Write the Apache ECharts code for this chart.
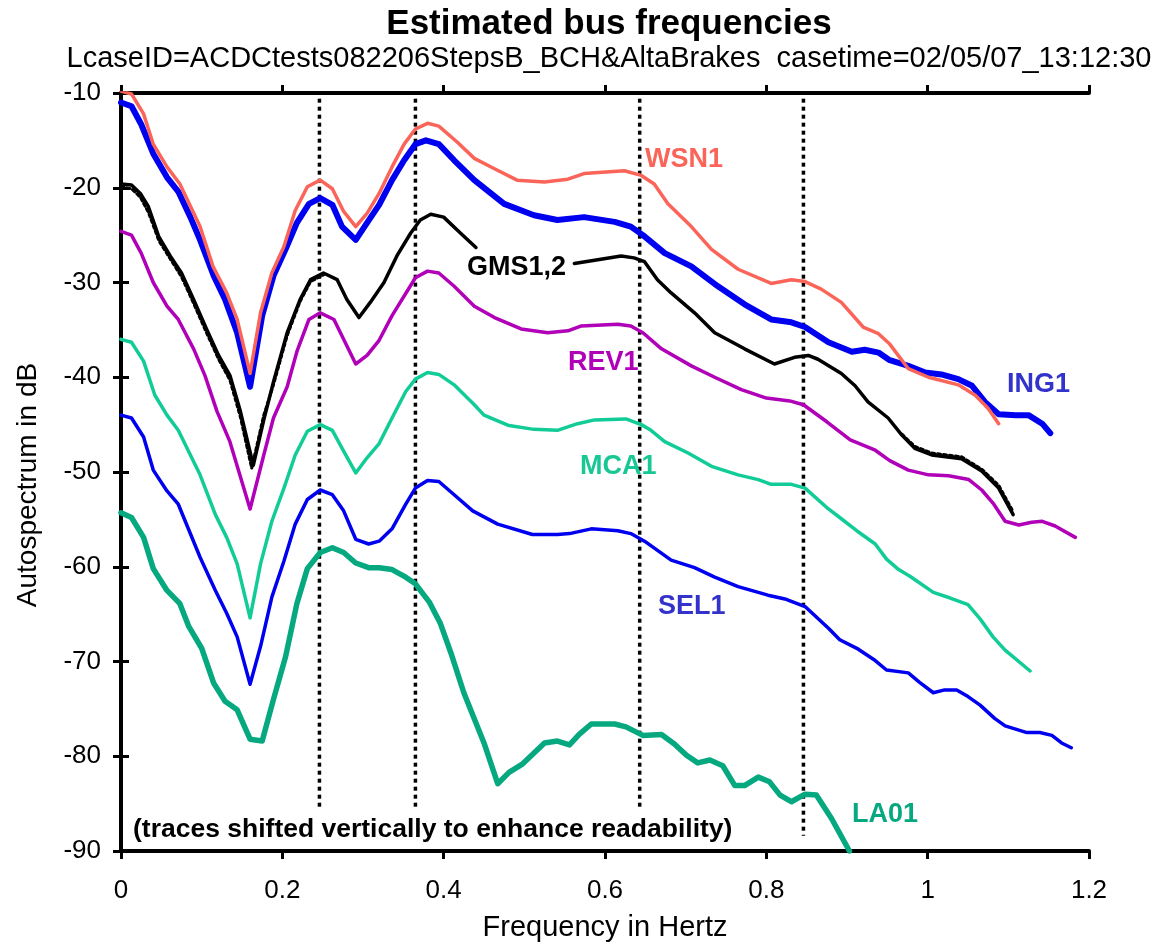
<!DOCTYPE html>
<html>
<head>
<meta charset="utf-8">
<title>Estimated bus frequencies</title>
<script src="https://cdn.jsdelivr.net/npm/echarts@6/dist/echarts.min.js"></script>
<style>
  html, body { margin: 0; padding: 0; background: #fff; }
  #mycharts { width: 1164px; height: 947px; }
</style>
</head>
<body>
<div id="mycharts"></div>
<script>
// frequency (Hz) and autospectrum (dB), one pair of arrays per trace
var wsnHz = [0, 0.013, 0.028, 0.040, 0.057, 0.073, 0.098, 0.114, 0.131, 0.144, 0.160, 0.173, 0.187, 0.202, 0.216, 0.231, 0.247, 0.262, 0.276, 0.291, 0.305, 0.320, 0.336, 0.351, 0.365, 0.380, 0.394, 0.417, 0.438, 0.463, 0.491, 0.525, 0.554, 0.574, 0.624, 0.645, 0.661, 0.678, 0.707, 0.732, 0.765, 0.806, 0.831, 0.848, 0.868, 0.893, 0.920, 0.939, 0.953, 0.976, 1.001, 1.038, 1.059, 1.075, 1.088];
var wsnDb = [-9.8, -10.1, -12.2, -15.4, -17.8, -19.6, -24.1, -28.3, -31.1, -33.9, -39.6, -33.2, -29.0, -26.2, -22.4, -19.9, -19.2, -20.1, -22.5, -24.1, -22.7, -20.6, -17.8, -15.4, -13.8, -13.2, -13.5, -15.2, -16.9, -18.0, -19.2, -19.4, -19.1, -18.5, -18.2, -18.7, -19.6, -21.7, -24.1, -26.5, -28.6, -30.1, -29.7, -29.9, -30.7, -32.1, -34.7, -35.4, -36.5, -39.1, -40.0, -40.8, -41.9, -43.3, -44.9];

var ingHz = [0, 0.013, 0.025, 0.040, 0.057, 0.071, 0.086, 0.098, 0.115, 0.129, 0.144, 0.160, 0.175, 0.189, 0.204, 0.218, 0.233, 0.247, 0.262, 0.274, 0.291, 0.305, 0.320, 0.336, 0.351, 0.365, 0.378, 0.394, 0.413, 0.438, 0.475, 0.512, 0.541, 0.574, 0.612, 0.632, 0.647, 0.674, 0.707, 0.740, 0.773, 0.806, 0.831, 0.848, 0.877, 0.906, 0.922, 0.939, 0.953, 0.976, 0.997, 1.017, 1.038, 1.055, 1.071, 1.088, 1.109, 1.125, 1.142, 1.152];
var ingDb = [-11.0, -11.4, -13.3, -16.4, -18.9, -20.4, -23.1, -25.5, -29.3, -31.8, -35.3, -41.0, -33.5, -29.3, -26.5, -23.7, -21.7, -21.1, -21.8, -24.1, -25.5, -23.7, -21.8, -19.2, -17.1, -15.4, -15.0, -15.4, -17.1, -19.2, -21.7, -22.9, -23.4, -23.1, -23.6, -24.1, -25.0, -26.9, -28.3, -30.4, -32.3, -33.9, -34.2, -34.7, -36.3, -37.3, -37.1, -37.4, -38.2, -38.8, -39.5, -39.7, -40.2, -40.9, -42.6, -43.9, -44.0, -44.0, -44.9, -45.9];

// GMS1 solid trace, broken where the label sits
var gms1Hz = [0, 0.013, 0.024, 0.034, 0.047, 0.061, 0.075, 0.090, 0.106, 0.121, 0.135, 0.148, 0.164, 0.177, 0.189, 0.206, 0.222, 0.235, 0.251, 0.268, 0.280, 0.295, 0.309, 0.326, 0.342, 0.359, 0.371, 0.384, 0.400, 0.421, 0.440, 0.500, 0.562, 0.591, 0.620, 0.636, 0.649, 0.665, 0.682, 0.711, 0.736, 0.773, 0.810, 0.835, 0.852, 0.864, 0.893, 0.910, 0.926, 0.951, 0.968, 0.984, 1.005, 1.042, 1.067, 1.088, 1.106];
var gms1Db = [-19.6, -19.7, -20.6, -22.0, -25.2, -27.2, -29.0, -31.8, -34.9, -37.7, -39.8, -43.6, -49.3, -44.5, -40.5, -35.3, -31.8, -29.7, -29.0, -29.7, -31.8, -33.7, -32.1, -30.0, -27.2, -24.8, -23.4, -22.8, -23.1, -24.8, -26.3, null, -28.0, -27.6, -27.2, -27.4, -27.8, -29.7, -31.1, -33.2, -35.3, -37.0, -38.6, -37.9, -37.7, -38.1, -39.6, -40.9, -42.6, -44.3, -46.1, -47.5, -48.2, -48.6, -49.9, -51.7, -54.5];
// GMS2 dotted trace, only where it shows beside GMS1
var gms2Hz = [0, 0.013, 0.024, 0.034, 0.047, 0.061, 0.075, 0.090, 0.106, 0.121, 0.135, 0.148, 0.162, 0.177, 0.189, 0.206, 0.222, 0.235, 0.251, 0.600, 0.968, 0.984, 1.005, 1.042, 1.067, 1.088, 1.106];
var gms2Db = [-19.9, -20.1, -21.0, -22.6, -25.6, -27.5, -29.4, -32.2, -35.3, -38.1, -40.3, -44.2, -49.6, -44.0, -40.8, -35.6, -32.0, -29.9, -29.2, null, -46.0, -47.3, -48.0, -48.4, -49.7, -51.4, -54.2];

var revHz = [0, 0.013, 0.025, 0.040, 0.057, 0.071, 0.090, 0.104, 0.119, 0.135, 0.160, 0.177, 0.189, 0.206, 0.218, 0.233, 0.247, 0.264, 0.291, 0.305, 0.320, 0.336, 0.365, 0.380, 0.394, 0.413, 0.438, 0.463, 0.496, 0.529, 0.554, 0.570, 0.616, 0.632, 0.647, 0.670, 0.707, 0.736, 0.769, 0.800, 0.829, 0.846, 0.875, 0.904, 0.935, 0.953, 0.976, 1.001, 1.026, 1.051, 1.067, 1.082, 1.096, 1.113, 1.129, 1.142, 1.158, 1.183];
var revDb = [-24.6, -25.0, -26.9, -30.0, -32.5, -33.9, -37.0, -39.8, -43.6, -46.8, -53.9, -48.2, -44.3, -41.0, -37.3, -33.9, -33.2, -33.9, -38.6, -37.7, -36.1, -33.5, -29.5, -28.8, -29.0, -30.4, -32.5, -33.7, -34.9, -35.3, -35.1, -34.6, -34.4, -34.6, -35.3, -37.0, -38.8, -40.0, -41.3, -42.2, -42.5, -42.9, -44.7, -46.6, -47.7, -48.8, -49.8, -50.3, -50.4, -50.8, -51.9, -53.4, -55.2, -55.6, -55.3, -55.2, -55.7, -56.9];

var mcaHz = [0, 0.013, 0.028, 0.042, 0.057, 0.071, 0.098, 0.117, 0.131, 0.144, 0.160, 0.173, 0.187, 0.202, 0.216, 0.231, 0.247, 0.262, 0.276, 0.291, 0.305, 0.320, 0.336, 0.353, 0.365, 0.380, 0.394, 0.413, 0.438, 0.450, 0.481, 0.512, 0.541, 0.566, 0.587, 0.626, 0.645, 0.657, 0.674, 0.703, 0.732, 0.765, 0.790, 0.806, 0.831, 0.848, 0.877, 0.891, 0.912, 0.935, 0.949, 0.964, 0.978, 1.007, 1.028, 1.050, 1.065, 1.081, 1.096, 1.127];
var mcaDb = [-36.0, -36.3, -38.3, -41.9, -44.0, -45.6, -50.3, -54.5, -56.9, -59.7, -65.4, -59.7, -55.2, -51.7, -48.2, -45.7, -45.0, -45.6, -47.8, -50.1, -48.5, -47.0, -44.3, -41.5, -40.2, -39.5, -39.7, -40.8, -42.9, -44.0, -45.1, -45.5, -45.6, -44.9, -44.5, -44.4, -45.0, -45.6, -46.8, -48.0, -49.4, -50.3, -50.8, -51.3, -51.3, -51.7, -53.9, -54.8, -56.2, -57.6, -59.2, -60.3, -61.0, -62.7, -63.3, -64.0, -65.5, -67.4, -68.8, -71.0];

var selHz = [0, 0.013, 0.028, 0.040, 0.057, 0.071, 0.098, 0.117, 0.131, 0.144, 0.160, 0.173, 0.187, 0.202, 0.216, 0.231, 0.247, 0.262, 0.276, 0.291, 0.307, 0.320, 0.336, 0.353, 0.365, 0.380, 0.394, 0.413, 0.436, 0.467, 0.510, 0.541, 0.556, 0.583, 0.616, 0.632, 0.649, 0.682, 0.711, 0.736, 0.765, 0.802, 0.823, 0.848, 0.877, 0.891, 0.914, 0.935, 0.949, 0.976, 0.990, 1.007, 1.021, 1.036, 1.050, 1.065, 1.083, 1.096, 1.123, 1.139, 1.154, 1.166, 1.178];
var selDb = [-44.0, -44.3, -46.3, -49.8, -52.0, -53.4, -59.0, -62.5, -64.9, -67.4, -72.4, -68.4, -63.2, -59.4, -55.5, -52.9, -51.9, -52.4, -54.1, -57.1, -57.6, -57.3, -56.0, -53.4, -51.7, -50.9, -51.0, -52.4, -54.1, -55.5, -56.6, -56.6, -56.5, -56.0, -56.2, -56.5, -57.3, -59.3, -60.1, -61.1, -62.1, -63.0, -63.4, -64.2, -66.5, -67.7, -68.7, -69.9, -70.9, -71.2, -72.2, -73.3, -73.0, -73.0, -73.7, -74.6, -76.0, -76.8, -77.5, -77.5, -77.8, -78.6, -79.1];

var laHz = [0, 0.013, 0.028, 0.040, 0.057, 0.073, 0.084, 0.100, 0.115, 0.129, 0.144, 0.160, 0.175, 0.189, 0.204, 0.218, 0.231, 0.247, 0.262, 0.276, 0.291, 0.307, 0.320, 0.336, 0.353, 0.365, 0.382, 0.396, 0.409, 0.425, 0.450, 0.467, 0.481, 0.498, 0.525, 0.541, 0.556, 0.568, 0.583, 0.612, 0.626, 0.647, 0.670, 0.686, 0.701, 0.715, 0.730, 0.746, 0.761, 0.773, 0.790, 0.804, 0.817, 0.831, 0.848, 0.862, 0.881, 0.903];
var laDb = [-54.3, -54.8, -56.9, -60.2, -62.5, -63.9, -66.3, -68.6, -72.3, -74.2, -75.1, -78.2, -78.4, -74.0, -69.5, -63.9, -60.2, -58.5, -58.0, -58.5, -59.6, -60.1, -60.1, -60.3, -61.1, -61.8, -63.7, -66.0, -69.1, -73.3, -78.6, -82.9, -81.7, -80.8, -78.6, -78.4, -78.8, -77.7, -76.6, -76.6, -76.9, -77.8, -77.7, -78.7, -79.9, -80.7, -80.4, -81.0, -83.1, -83.1, -82.2, -82.7, -84.1, -84.8, -84.0, -84.1, -86.6, -90.0];

// dotted marker lines: frequency, top and bottom in dB
var markHz = [0.246, 0.365, 0.643, 0.846];
var markTopDb = [-10.6, -10.6, -10.6, -10.6];
var markBottomDb = [-85.6, -85.6, -85.6, -88.4];

function pairs(xs, ys) {
  return xs.map(function (x, i) { return [x, ys[i]]; });
}

var myCharts = echarts.init(document.getElementById("mycharts"));

var font = "Liberation Sans, Arial, sans-serif";
var axisStyle = { lineStyle: { color: "#000", width: 4 } };
var tickStyle = { show: true, length: 8, lineStyle: { color: "#000", width: 3 } };

var markSeries = markHz.map(function (hz, i) {
  return {
    name: "mark" + i,
    type: "line",
    symbol: "none",
    silent: true,
    z: 1,
    data: [[hz, markTopDb[i]], [hz, markBottomDb[i]]],
    lineStyle: { color: "#000", width: 3.5, type: [4, 4] }
  };
});

function trace(name, xs, ys, color, width, dash) {
  return {
    name: name,
    type: "line",
    symbol: "none",
    connectNulls: false,
    z: 3,
    data: pairs(xs, ys),
    lineStyle: { color: color, width: width, type: dash || "solid", cap: "round", join: "round" }
  };
}

function label(text, x, y, color, size) {
  return {
    type: "text",
    x: x,
    y: y,
    z: 10,
    style: {
      text: text,
      fill: color,
      font: "bold " + (size || 27) + "px " + font,
      textVerticalAlign: "middle"
    }
  };
}

var option = {
  animation: false,
  backgroundColor: "#fff",
  title: {
    text: "Estimated bus frequencies",
    subtext: "LcaseID=ACDCtests082206StepsB_BCH&AltaBrakes  casetime=02/05/07_13:12:30",
    left: 604,
    textAlign: "center",
    top: 2,
    itemGap: 2,
    textStyle: { fontFamily: font, fontSize: 35, fontWeight: "bold", color: "#000" },
    subtextStyle: { fontFamily: font, fontSize: 29, color: "#000" }
  },
  grid: { left: 121, top: 93, right: 75, bottom: 92 },
  xAxis: [
    {
      type: "value",
      min: 0,
      max: 1.2,
      interval: 0.2,
      name: "Frequency in Hertz",
      nameLocation: "middle",
      nameGap: 62,
      nameTextStyle: { fontFamily: font, fontSize: 29, color: "#000" },
      axisLine: axisStyle,
      axisTick: tickStyle,
      splitLine: { show: false },
      axisLabel: { fontFamily: font, fontSize: 26, color: "#000", margin: 27 }
    },
    {
      type: "value",
      position: "top",
      min: 0,
      max: 1.2,
      interval: 0.2,
      axisLine: axisStyle,
      axisTick: tickStyle,
      axisLabel: { show: false },
      splitLine: { show: false }
    }
  ],
  yAxis: [
    {
      type: "value",
      min: -90,
      max: -10,
      interval: 10,
      axisLine: axisStyle,
      axisTick: tickStyle,
      splitLine: { show: false },
      axisLabel: { fontFamily: font, fontSize: 26, color: "#000", margin: 20 }
    },
    {
      type: "value",
      position: "right",
      min: -90,
      max: -10,
      interval: 10,
      axisLine: axisStyle,
      axisTick: tickStyle,
      axisLabel: { show: false },
      splitLine: { show: false }
    }
  ],
  series: markSeries.concat([
    trace("ING1", ingHz, ingDb, "#0000f0", 6),
    trace("WSN1", wsnHz, wsnDb, "#fa6459", 3.5),
    trace("GMS2", gms2Hz, gms2Db, "#000", 3, [3, 3]),
    trace("GMS1", gms1Hz, gms1Db, "#000", 3.5),
    trace("REV1", revHz, revDb, "#b000b8", 3.5),
    trace("MCA1", mcaHz, mcaDb, "#12cc98", 3.5),
    trace("SEL1", selHz, selDb, "#0000f0", 3.5),
    trace("LA01", laHz, laDb, "#06a97f", 5.5)
  ]),
  graphic: [
    {
      type: "text",
      x: 28,
      y: 485,
      rotation: Math.PI / 2,
      style: {
        text: "Autospectrum in dB",
        fill: "#000",
        font: "28px " + font,
        textAlign: "center",
        textVerticalAlign: "middle"
      }
    },
    label("WSN1", 645, 160, "#fa6459"),
    label("GMS1,2", 467, 268, "#000"),
    label("REV1", 568, 363, "#b000b8"),
    label("ING1", 1007, 385, "#3333cc"),
    label("MCA1", 580, 467, "#17c794"),
    label("SEL1", 658, 607, "#3333cc"),
    label("LA01", 852, 815, "#06a97f"),
    label("(traces shifted vertically to enhance readability)", 133, 830, "#000", 26.5)
  ]
};

myCharts.setOption(option);
</script>
</body>
</html>
